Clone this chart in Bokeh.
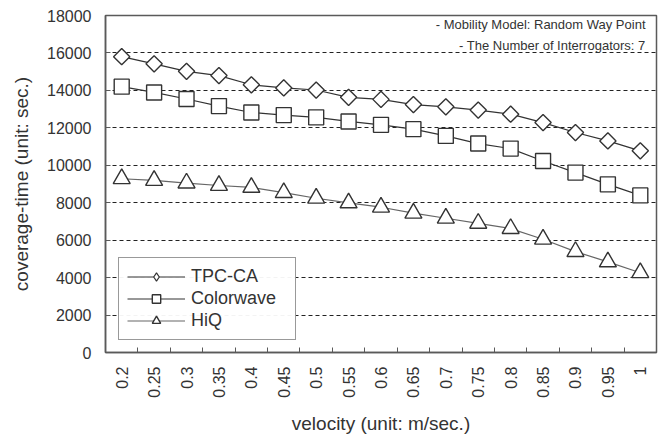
import math
from bokeh.plotting import figure
from bokeh.models import Range1d, FixedTicker, Legend, LegendItem, Label, ColumnDataSource
from bokeh.embed import file_html
from bokeh.resources import INLINE

# ---- data ----
velocity = ["0.2", "0.25", "0.3", "0.35", "0.4", "0.45", "0.5", "0.55", "0.6",
            "0.65", "0.7", "0.75", "0.8", "0.85", "0.9", "0.95", "1"]
tpc_ca = [15800, 15420, 15020, 14790, 14300, 14130, 14020, 13630, 13520,
          13240, 13120, 12950, 12730, 12280, 11750, 11300, 10770]
colorwave = [14200, 13890, 13540, 13160, 12820, 12680, 12560, 12340, 12160,
             11930, 11570, 11160, 10890, 10230, 9610, 8980, 8390]
hiq = [9280, 9190, 9050, 8920, 8820, 8540, 8240, 7990, 7760,
       7440, 7170, 6900, 6620, 6050, 5390, 4840, 4260]
y_ticks = [0, 2000, 4000, 6000, 8000, 10000, 12000, 14000, 16000, 18000]
series_names = ["TPC-CA", "Colorwave", "HiQ"]

FONT = "Liberation Sans"
TXT = "#333333"

n = len(velocity)
xs = [i + 0.5 for i in range(n)]

p = figure(width=662, height=436, output_backend="svg", toolbar_location=None,
           x_range=Range1d(0, n), y_range=Range1d(0, 18000),
           min_border_left=105, min_border_top=15, min_border_bottom=84, min_border_right=6)
p.background_fill_color = "white"
p.border_fill_color = "white"
p.outline_line_color = "#5a5a5a"
p.outline_line_width = 1.5

# x axis: labels at category centres, ticks at boundaries (minor ticks)
p.xaxis.ticker = FixedTicker(ticks=xs, minor_ticks=list(range(n + 1)))
p.xaxis.major_label_overrides = {x: v for x, v in zip(xs, velocity)}
p.xaxis.major_label_orientation = math.pi / 2
p.xaxis.major_tick_in = 0
p.xaxis.major_tick_out = 0
p.xaxis.minor_tick_in = 5
p.xaxis.minor_tick_out = 0
p.xaxis.minor_tick_line_color = "#5a5a5a"
p.xaxis.axis_label = "velocity (unit: m/sec.)"

# y axis
p.yaxis.ticker = FixedTicker(ticks=y_ticks)
p.yaxis.major_tick_in = 5
p.yaxis.major_tick_out = 0
p.yaxis.minor_tick_line_color = None
p.yaxis.axis_label = "coverage-time (unit: sec.)"

for ax in (p.xaxis[0], p.yaxis[0]):
    ax.axis_line_color = "#5a5a5a"
    ax.axis_line_width = 1.5
    ax.major_tick_line_color = "#5a5a5a"
    ax.major_label_text_font = FONT
    ax.major_label_text_font_size = "16px"
    ax.major_label_text_color = TXT
    ax.axis_label_text_font = FONT
    ax.axis_label_text_font_size = "19px"
    ax.axis_label_text_font_style = "normal"
    ax.axis_label_text_color = TXT

p.xaxis.major_label_standoff = 14
p.xaxis.axis_label_standoff = 12
p.yaxis.major_label_standoff = 14
p.yaxis.axis_label_standoff = 12

p.xgrid.grid_line_color = None
p.ygrid.ticker = FixedTicker(ticks=y_ticks[1:-1])
p.ygrid.grid_line_color = "#222222"
p.ygrid.grid_line_dash = "4 3"
p.ygrid.grid_line_width = 1

src = ColumnDataSource(dict(x=xs, tpc=tpc_ca, cw=colorwave, hiq=hiq))

l1 = p.line("x", "tpc", source=src, line_color="#333333", line_width=1.2)
# diamond used for the legend symbol (legend glyphs are drawn unrotated);
# it sits fully hidden underneath the rotated-square markers in the plot
m1_leg = p.scatter("x", "tpc", source=src, marker="diamond", size=14,
                   fill_color="white", line_color="#333333", line_width=1.2)
m1 = p.scatter("x", "tpc", source=src, marker="square", angle=math.pi / 4, size=11.5,
               fill_color="white", line_color="#333333", line_width=1.4)
l2 = p.line("x", "cw", source=src, line_color="#333333", line_width=1.2)
m2 = p.scatter("x", "cw", source=src, marker="square", size=15,
               fill_color="white", line_color="#333333", line_width=1.4)
l3 = p.line("x", "hiq", source=src, line_color="#666666", line_width=1.2)
m3 = p.scatter("x", "hiq", source=src, marker="triangle", size=17,
               fill_color="white", line_color="#333333", line_width=1.4)

legend = Legend(items=[LegendItem(label=series_names[0], renderers=[l1, m1_leg]),
                       LegendItem(label=series_names[1], renderers=[l2, m2]),
                       LegendItem(label=series_names[2], renderers=[l3, m3])],
                location=(13, 12))
legend.label_text_font = FONT
legend.label_text_font_size = "18px"
legend.label_text_color = TXT
legend.border_line_color = "#333333"
legend.border_line_width = 1.2
legend.background_fill_color = "white"
legend.padding = 8
legend.spacing = 1
legend.margin = 0
legend.glyph_width = 58
legend.glyph_height = 21
legend.label_height = 21
legend.label_width = 96
legend.label_standoff = 6
p.add_layout(legend, "center")

note1 = Label(x=n, y=18000, x_offset=-11, y_offset=-9, text="- Mobility Model: Random Way Point",
              text_align="right", text_baseline="middle", text_font=FONT,
              text_font_size="13px", text_color=TXT)
note2 = Label(x=n, y=18000, x_offset=-11, y_offset=-30, text="- The Number of Interrogators: 7",
              text_align="right", text_baseline="middle", text_font=FONT,
              text_font_size="13px", text_color=TXT)
p.add_layout(note1)
p.add_layout(note2)

open("out.html", "w").write(file_html(p, INLINE))
